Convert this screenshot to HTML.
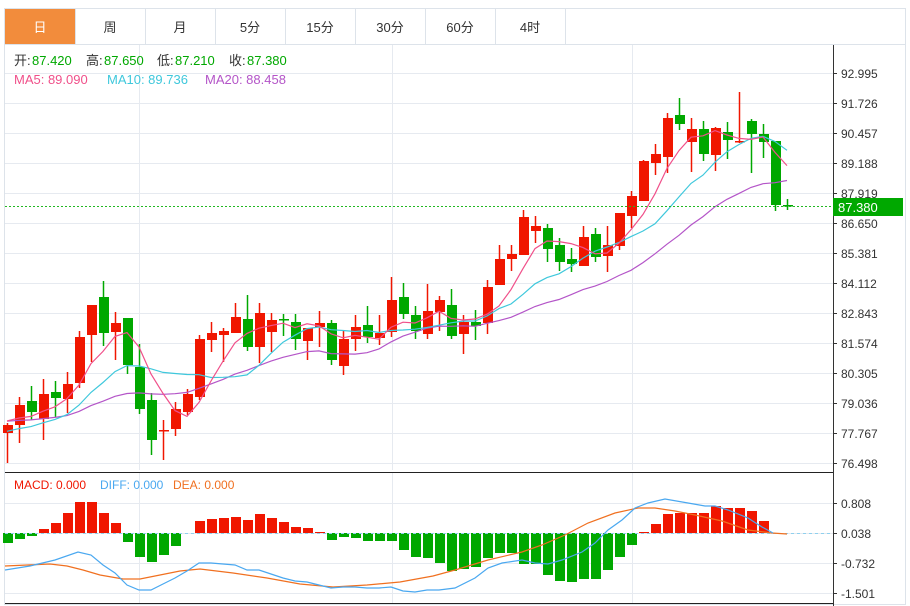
<!DOCTYPE html>
<html><head><meta charset="utf-8"><style>
body{margin:0;background:#fff;width:910px;height:606px;overflow:hidden;font-family:"Liberation Sans","Noto Sans CJK SC",sans-serif}
svg{position:absolute;left:0;top:0}
</style></head><body>
<svg id="s" width="910" height="606" xmlns="http://www.w3.org/2000/svg" font-family="Liberation Sans, Noto Sans CJK SC, sans-serif"></svg>
<script>
var S=document.getElementById('s'),h='';
function L(x1,y1,x2,y2,c,w,d){h+='<line x1="'+x1+'" y1="'+y1+'" x2="'+x2+'" y2="'+y2+'" stroke="'+c+'" stroke-width="'+(w||1)+'"'+(d?' stroke-dasharray="'+d+'"':'')+'/>';}
function R(x,y,w,hh,f,s){h+='<rect x="'+x+'" y="'+y+'" width="'+w+'" height="'+hh+'" fill="'+f+'"'+(s?' stroke="'+s+'"':'')+'/>';}
function T(x,y,t,c,sz,a){h+='<text x="'+x+'" y="'+y+'" fill="'+c+'" font-size="'+(sz||12)+'"'+(a?' text-anchor="'+a+'"':'')+'>'+t+'</text>';}
function P(pts,c,w){h+='<polyline fill="none" stroke="'+c+'" stroke-width="'+(w||1)+'" points="'+pts.map(p=>p.join(',')).join(' ')+'"/>';}
R(4.5,8.5,901,596,'none','#dde3ea');
var tabs=['日','周','月','5分','15分','30分','60分','4时'];
for(var i=0;i<8;i++){var x=5+70*i;if(i==0)R(x,9,70,35,'#f28c3c');else L(x+0.5,9,x+0.5,44,'#dde3ea');T(x+35,32,tabs[i],i==0?'#fff':'#333',13,'middle');}
L(565.5,9,565.5,44,'#dde3ea');L(5,44.5,906,44.5,'#dde3ea');
var lab=['92.995','91.726','90.457','89.188','87.919','86.650','85.381','84.112','82.843','81.574','80.305','79.036','77.767','76.498'];
for(i=0;i<14;i++){var y=73+30*i;L(5,y+0.5,833,y+0.5,'#e6eaf0');L(833,y+0.5,837,y+0.5,'#333');T(841,y+5,lab[i],'#333',12);}
[139,392,632].forEach(x=>{L(x+0.5,45,x+0.5,470,'#e6eaf0');L(x+0.5,473,x+0.5,603,'#e6eaf0');});
L(833.5,45,833.5,606,'#333');
L(5,472.5,833,472.5,'#222');L(5,603.5,833,603.5,'#222');
var ml=['0.808','0.038','-0.732','-1.501'];
for(i=0;i<4;i++){var y=503+30*i;L(5,y+0.5,833,y+0.5,'#e6eaf0');L(833,y+0.5,837,y+0.5,'#333');T(841,y+5,ml[i],'#333',12);}
var C=[[433,425,423,463],[425,405,397,443],[401,412,386,420],[419,394,379,440],[392,398,381,417],[399,384,372,413],[383,337,331,388],[335,305,305,362],[297,333,281,346],[332,323,312,360],[318,365,318,374],[367,409,344,414],[400,440,393,455],[430,430,420,460],[429,409,402,436],[412,394,389,415],[397,339,335,400],[340,333,322,352],[335,331,328,362],[333,317,303,333],[319,347,295,351],[347,313,303,363],[332,320,313,352],[319,319,314,336],[322,339,314,350],[341,328,328,360],[327,323,311,347],[323,360,320,365],[366,339,331,375],[339,327,315,351],[325,337,306,343],[338,333,315,345],[332,300,277,337],[297,314,283,319],[315,331,306,339],[334,311,284,339],[312,300,296,331],[305,336,289,339],[334,322,315,354],[322,326,310,340],[323,287,280,334],[285,259,245,285],[259,254,245,271],[255,217,210,255],[231,226,216,243],[228,249,224,262],[245,262,238,271],[259,264,248,272],[266,237,226,266],[234,257,228,262],[256,245,226,272],[246,213,213,250],[216,196,191,228],[201,161,160,201],[163,154,144,175],[157,118,113,173],[115,124,98,130],[142,129,118,172],[129,154,121,161],[155,128,127,171],[132,140,122,159],[141,141,92,143],[121,134,119,173],[134,142,124,158],[141,205,141,211],[205,206,199,210]];
var cl=C.map(c=>c[1]);
function ma(n,pad){return cl.map((v,i)=>{var s=0;for(var j=i-n+1;j<=i;j++){s+=j<0?pad:cl[j];}return [7+12*i,(s/n).toFixed(1)];});}
C.forEach((c,i)=>{var x=7+12*i,col=c[1]<c[0]?'#f01600':'#00a800';if(i==23||i==65)col='#00a800';if(i==13||i==61)col='#f01600';L(x+0.5,c[2],x+0.5,c[3],col,1.5);var t=Math.min(c[0],c[1]),b=Math.max(c[0],c[1]);R(x-4,t,10,Math.max(b-t,1.5),col);});
P(ma(20,421),'#b455c8',1.2);P(ma(10,432),'#3fc8dc',1.2);P(ma(5,420),'#f0508a',1.2);
L(5,206.5,833,206.5,'#22b822',1,'2,2');R(833,198,70,18,'#00a800');T(838,212,'87.380','#fff',13);
T(14,65,'开:','#333',13);T(32,65,'87.420','#00a800',13);
T(86,65,'高:','#333',13);T(104,65,'87.650','#00a800',13);
T(157,65,'低:','#333',13);T(175,65,'87.210','#00a800',13);
T(229,65,'收:','#333',13);T(247,65,'87.380','#00a800',13);
T(14,84,'MA5: 89.090','#f0508a',13);T(107,84,'MA10: 89.736','#3fc8dc',13);T(205,84,'MA20: 88.458','#b455c8',13);
T(14,489,'MACD: 0.000','#f01600',12);T(100,489,'DIFF: 0.000','#4aa8f0',12);T(173,489,'DEA: 0.000','#f07020',12);
var M=[543,539,536,529,523,513,502,502,513,523,542,557,562,555,546,533,521,519,518,517,520,514,518,522,527,528,532,540,537,538,541,541,541,550,557,558,563,571,569,567,558,553,553,564,564,575,581,582,579,579,570,557,545,532,524,514,513,513,513,506,508,508,511,521,533,533];
M.forEach((v,i)=>{var x=7+12*i;if(Math.abs(v-533)<1)return;var c=v<533?'#f01600':'#00a800';R(x-4,Math.min(v,533),10,Math.abs(v-533),c);});
L(5,533.5,833,533.5,'#8fd0ee',1,'3,3');
P([[5,566],[50,564],[67,566],[83,570],[100,575],[123,579],[140,579],[160,575],[180,571],[200,569],[233,573],[267,578],[300,584],[333,587],[367,585],[400,582],[433,576],[455,570],[488,560],[522,552],[542,545],[565,535],[588,523],[615,513],[638,508],[655,508],[675,511],[695,515],[722,521],[748,530],[772,533],[787,534]],'#f07020',1.2);
P([[5,570],[30,566],[55,560],[78,552],[91,555],[103,565],[115,573],[127,585],[139,590],[151,590],[163,584],[175,578],[187,571],[199,563],[211,563],[223,564],[235,565],[247,570],[259,570],[271,574],[283,578],[295,581],[307,582],[319,585],[331,588],[343,587],[355,587],[367,588],[379,588],[391,587],[403,591],[415,592],[427,590],[439,590],[455,588],[475,578],[488,568],[502,563],[522,560],[535,563],[548,564],[562,560],[582,552],[595,543],[608,530],[622,520],[635,508],[648,503],[665,499],[688,503],[705,506],[715,506],[728,510],[748,518],[762,527],[773,533]],'#4aa8f0',1.2);
S.innerHTML=h;
</script>
</body></html>
